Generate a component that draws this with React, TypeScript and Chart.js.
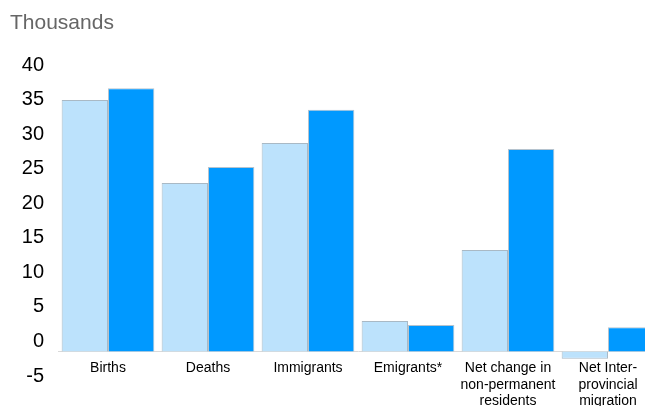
import React, { useEffect, useRef } from 'react';
import { Chart, registerables } from 'chart.js';

Chart.register(...registerables);

// ---- data ----
const categories: (string | string[])[] = [
  'Births',
  'Deaths',
  'Immigrants',
  'Emigrants*',
  ['Net change in', 'non-permanent', 'residents'],
  ['Net Inter-', 'provincial', 'migration'],
];
const seriesPrevious = [36.4, 24.4, 30.2, 4.4, 14.7, -1.05];
const seriesCurrent = [38.1, 26.7, 35.0, 3.85, 29.3, 3.5];
const yMin = -5;
const yMax = 40;
const yStep = 5;
const yTitle = 'Thousands';

const FONT = "'Liberation Sans', Arial, Helvetica, sans-serif";

export default function App() {
  const canvasRef = useRef<HTMLCanvasElement | null>(null);

  useEffect(() => {
    if (!canvasRef.current) return;
    const chart = new Chart(canvasRef.current, {
      type: 'bar',
      data: {
        labels: categories,
        datasets: [
          {
            label: 'Previous',
            data: seriesPrevious,
            backgroundColor: '#BCE2FC',
            borderColor: '#A9B9C5',
            borderWidth: 1,
          },
          {
            label: 'Current',
            data: seriesCurrent,
            backgroundColor: '#0099FF',
            borderColor: '#B5C3CE',
            borderWidth: 1,
          },
        ],
      },
      options: {
        responsive: false,
        animation: false,
        devicePixelRatio: 1,
        layout: { padding: { left: 10, right: 0, top: 0, bottom: 20 } },
        datasets: {
          bar: { categoryPercentage: 0.927, barPercentage: 1 },
        },
        plugins: {
          legend: { display: false },
          tooltip: { enabled: false },
          title: {
            display: true,
            text: yTitle,
            align: 'start',
            color: '#666666',
            font: { family: FONT, size: 21, weight: 'normal' },
            padding: { top: 11, bottom: 39 },
          },
        },
        scales: {
          x: {
            position: { y: 0 } as any,
            grid: { display: false, drawTicks: false },
            border: { display: true, color: '#D9D9D9', width: 1 },
            ticks: {
              color: '#000000',
              font: { family: FONT, size: 14, lineHeight: 1.2 },
              padding: 8,
              maxRotation: 0,
              autoSkip: false,
            },
          },
          y: {
            min: yMin,
            max: yMax,
            grid: { display: false, drawTicks: false },
            border: { display: false },
            afterFit: (scale: any) => {
              scale.width = 48;
              scale.paddingTop = 0;
              scale.paddingBottom = 0;
            },
            ticks: {
              stepSize: yStep,
              color: '#000000',
              font: { family: FONT, size: 20 },
              padding: 14,
              labelOffset: -10,
            },
          },
        },
      },
    });
    return () => chart.destroy();
  }, []);

  return (
    <div
      style={{
        position: 'fixed',
        left: 0,
        top: 0,
        width: 645,
        height: 406,
        overflow: 'hidden',
        background: '#ffffff',
      }}
    >
      <canvas ref={canvasRef} width={658} height={406} style={{ width: 658, height: 406, display: 'block' }} />
    </div>
  );
}
